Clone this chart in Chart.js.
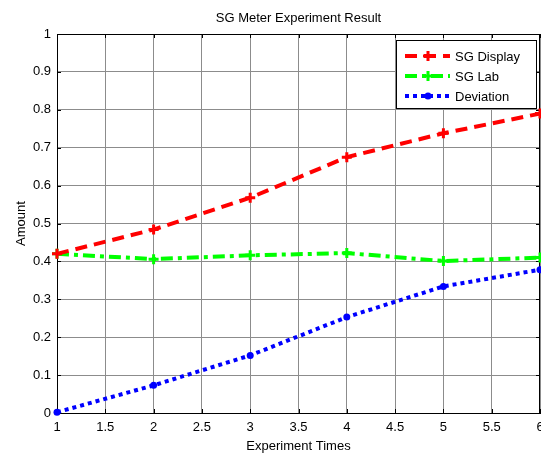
<!DOCTYPE html>
<html><head><meta charset="utf-8">
<script src="https://cdn.jsdelivr.net/npm/chart.js@4/dist/chart.umd.min.js"></script>
<style>html,body{margin:0;padding:0;background:#fff}#wrap{width:541px;height:454px}</style>
</head><body><div id="wrap"><canvas id="c" width="541" height="454"></canvas></div>
<script>
const experimentTimes = [1, 2, 3, 4, 5, 6];
const sgDisplay = [0.42, 0.484, 0.568, 0.675, 0.738, 0.79];
const sgLab = [0.42, 0.406, 0.416, 0.422, 0.401, 0.41];
const deviation = [0.002, 0.073, 0.152, 0.253, 0.334, 0.378];
const seriesNames = ['SG Display', 'SG Lab', 'Deviation'];

const FONT = 'Liberation Sans, Arial, sans-serif';
function pts(vals){ return experimentTimes.map((x,i)=>({x:x,y:vals[i]})); }

const boxPlugin = {
  id:'box',
  beforeDatasetsDraw(chart){
    const a = chart.chartArea, ctx = chart.ctx;
    ctx.save();
    ctx.strokeStyle = '#000'; ctx.lineWidth = 1;
    const xs = chart.scales.x, ys = chart.scales.y;
    ctx.beginPath();
    for (let v=1; v<=6.0001; v+=0.5){ const px = Math.round(xs.getPixelForValue(v))+0.5;
      ctx.moveTo(px,a.top); ctx.lineTo(px,a.top+4); ctx.moveTo(px,a.bottom); ctx.lineTo(px,a.bottom-4); }
    for (let v=0; v<=1.0001; v+=0.1){ const py = Math.round(ys.getPixelForValue(v))+0.5;
      ctx.moveTo(a.left,py); ctx.lineTo(a.left+4,py); ctx.moveTo(a.right,py); ctx.lineTo(a.right-4,py); }
    ctx.stroke();
    ctx.strokeRect(Math.round(a.left)+0.5, Math.round(a.top)+0.5, Math.round(a.right-a.left)-1, Math.round(a.bottom-a.top));
    ctx.restore();
  },
  afterDraw(chart){
    const ctx = chart.ctx;
    const bx = 396, by = 40, bw = 140, bh = 68;
    ctx.save();
    ctx.fillStyle = '#fff'; ctx.fillRect(bx, by, bw, bh);
    ctx.strokeStyle = '#000'; ctx.lineWidth = 1; ctx.strokeRect(bx+0.5, by+0.5, bw, bh);
    const rows = [56, 76, 96];
    chart.data.datasets.forEach((ds,i)=>{
      const y = rows[i];
      ctx.save();
      ctx.strokeStyle = ds.borderColor; ctx.lineWidth = ds.borderWidth;
      ctx.setLineDash(ds.borderDash || []);
      ctx.beginPath(); ctx.moveTo(405, y); ctx.lineTo(450, y); ctx.stroke();
      ctx.restore();
      ctx.save();
      ctx.fillStyle = ds.pointBackgroundColor; ctx.strokeStyle = ds.pointBorderColor; ctx.lineWidth = ds.pointBorderWidth;
      ctx.beginPath();
      if (ds.pointStyle === 'circle') { ctx.arc(428, y, ds.pointRadius, 0, Math.PI*2); ctx.fill(); }
      else { const r = ds.pointRadius; ctx.moveTo(428-r,y); ctx.lineTo(428+r,y); ctx.moveTo(428,y-r); ctx.lineTo(428,y+r); ctx.stroke(); }
      ctx.restore();
      ctx.fillStyle = '#000'; ctx.font = '13px ' + FONT; ctx.textBaseline = 'middle'; ctx.textAlign='left';
      ctx.fillText(ds.label, 455, y+1);
    });
    ctx.restore();
  }
};

new Chart(document.getElementById('c'), {
  type: 'line',
  data: { datasets: [
    { label: seriesNames[0], data: pts(sgDisplay), borderColor: '#ff0000', backgroundColor:'#ff0000', borderWidth: 4, borderDash:[12,7],
      pointStyle:'cross', pointRadius:5, pointBorderWidth:3, pointBorderColor:'#ff0000', pointBackgroundColor:'#ff0000', clip:false },
    { label: seriesNames[1], data: pts(sgLab), borderColor: '#00ff00', backgroundColor:'#00ff00', borderWidth: 4, borderDash:[12,5,4,5],
      pointStyle:'cross', pointRadius:5, pointBorderWidth:3, pointBorderColor:'#00ff00', pointBackgroundColor:'#00ff00', clip:false },
    { label: seriesNames[2], data: pts(deviation), borderColor: '#0000ff', backgroundColor:'#0000ff', borderWidth: 4, borderDash:[4,4],
      pointStyle:'circle', pointRadius:3.5, pointBorderWidth:0, pointBorderColor:'#0000ff', pointBackgroundColor:'#0000ff', clip:false }
  ]},
  options: {
    responsive:false, animation:false, devicePixelRatio:1,
    layout:{ autoPadding:false, padding:{ left:0, right:1, top:0, bottom:0 } },
    plugins:{
      legend:{ display:false }, tooltip:{ enabled:false },
      title:{ display:true, text:'SG Meter Experiment Result', color:'#000', fullSize:false,
        font:{ family:FONT, size:13, weight:'normal' }, padding:{ top:11, bottom:7.4 } }
    },
    scales:{
      x:{ type:'linear', min:1, max:6,
        afterFit(s){ s.height = 41; s.paddingRight = 0; s.paddingLeft = 0; },
        ticks:{ stepSize:0.5, color:'#000', font:{family:FONT,size:13}, padding:7, maxRotation:0,
          callback:(v)=>String(v) },
        grid:{ color:'#8c8c8c', drawTicks:false }, border:{ color:'#000', width:1 },
        title:{ display:true, text:'Experiment Times', color:'#000', font:{family:FONT,size:13}, padding:{top:0,bottom:0} } },
      y:{ type:'linear', min:0, max:1,
        afterFit(s){ s.width = 57; },
        ticks:{ stepSize:0.1, color:'#000', font:{family:FONT,size:13}, padding:6,
          callback:(v)=>String(Math.round(v*10)/10) },
        grid:{ color:'#8c8c8c', drawTicks:false }, border:{ color:'#000', width:1 },
        title:{ display:true, text:'Amount', color:'#000', font:{family:FONT,size:13}, padding:{top:14,bottom:0} } }
    }
  },
  plugins:[boxPlugin]
});
</script></body></html>
